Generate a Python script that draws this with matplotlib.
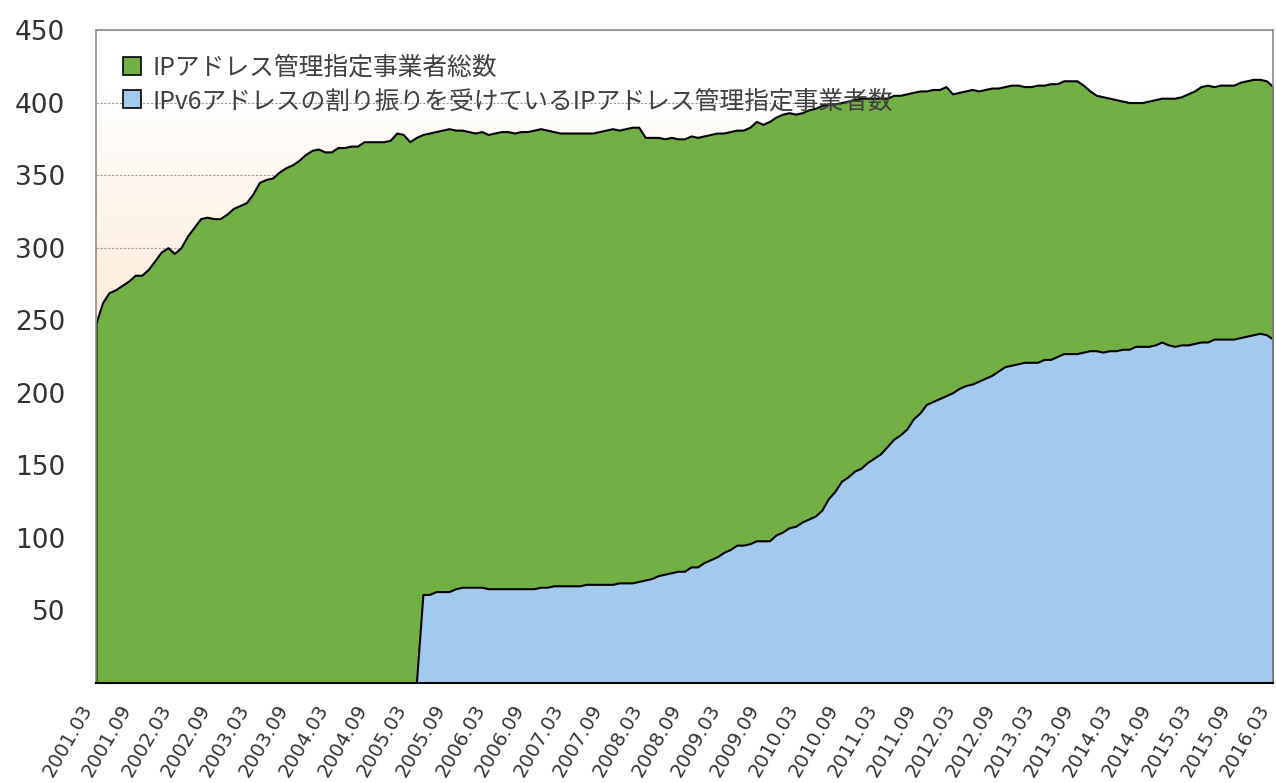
import numpy as np
import matplotlib
matplotlib.use("Agg")
import matplotlib.pyplot as plt
from matplotlib.patches import Patch
from matplotlib.colors import LinearSegmentedColormap
from matplotlib.transforms import ScaledTranslation

# monthly values, 2001.03 .. 2016.03
total = [248, 262, 269, 271, 274, 277, 281, 281, 285, 291, 297, 300, 296, 300, 308, 314,
         320, 321, 320, 320, 323, 327, 329, 331, 337, 345, 347, 348, 352, 355, 357, 360,
         364, 367, 368, 366, 366, 369, 369, 370, 370, 373, 373, 373, 373, 374, 379, 378,
         373, 376, 378, 379, 380, 381, 382, 381, 381, 380, 379, 380, 378, 379, 380, 380,
         379, 380, 380, 381, 382, 381, 380, 379, 379, 379, 379, 379, 379, 380, 381, 382,
         381, 382, 383, 383, 376, 376, 376, 375, 376, 375, 375, 377, 376, 377, 378, 379,
         379, 380, 381, 381, 383, 387, 385, 387, 390, 392, 393, 392, 393, 395, 396, 398,
         399, 399, 400, 401, 402, 403, 403, 403, 403, 403, 405, 405, 406, 407, 408, 408,
         409, 409, 411, 406, 407, 408, 409, 408, 409, 410, 410, 411, 412, 412, 411, 411,
         412, 412, 413, 413, 415, 415, 415, 412, 408, 405, 404, 403, 402, 401, 400, 400,
         400, 401, 402, 403, 403, 403, 404, 406, 408, 411, 412, 411, 412, 412, 412, 414,
         415, 416, 416, 415, 411]

ipv6 = [0] * 50 + [
    61, 61, 63, 63, 63, 65, 66, 66, 66, 66, 65, 65, 65, 65, 65, 65, 65, 65, 66, 66,
    67, 67, 67, 67, 67, 68, 68, 68, 68, 68, 69, 69, 69, 70, 71, 72, 74, 75, 76, 77,
    77, 80, 80, 83, 85, 87, 90, 92, 95, 95, 96, 98, 98, 98, 102, 104, 107, 108, 111, 113,
    115, 119, 127, 132, 139, 142, 146, 148, 152, 155, 158, 163, 168, 171, 175, 182, 186, 192, 194, 196,
    198, 200, 203, 205, 206, 208, 210, 212, 215, 218, 219, 220, 221, 221, 221, 223, 223, 225, 227, 227,
    227, 228, 229, 229, 228, 229, 229, 230, 230, 232, 232, 232, 233, 235, 233, 232, 233, 233, 234, 235,
    235, 237, 237, 237, 237, 238, 239, 240, 241, 240, 237]

tick_labels = ["2001.03", "2001.09", "2002.03", "2002.09", "2003.03", "2003.09", "2004.03",
               "2004.09", "2005.03", "2005.09", "2006.03", "2006.09", "2007.03", "2007.09",
               "2008.03", "2008.09", "2009.03", "2009.09", "2010.03", "2010.09", "2011.03",
               "2011.09", "2012.03", "2012.09", "2013.03", "2013.09", "2014.03", "2014.09",
               "2015.03", "2015.09", "2016.03"]

legend_labels = ["IPアドレス管理指定事業者総数",
                 "IPv6アドレスの割り振りを受けているIPアドレス管理指定事業者数"]

green = "#72B046"
blue = "#A3C9EC"

x = np.arange(len(total))

fig = plt.figure(figsize=(12.76, 7.83), dpi=100)
ax = fig.add_axes([0.0752, 0.1277, 0.9224, 0.834])

# background gradient (peach at bottom -> white at top)
cmap = LinearSegmentedColormap.from_list(
    "bg", [(0, "#F9D7B0"), (0.55, "#FDEBD7"), (0.9, "#FFFFFF"), (1, "#FFFFFF")])
grad = np.linspace(0, 1, 256).reshape(-1, 1)
ax.imshow(grad, cmap=cmap, origin="lower", aspect="auto", extent=[0, 180, 0, 450], zorder=0)

for v in range(50, 451, 50):
    ax.axhline(v, color="#999999", lw=0.8, ls=(0, (2, 1.5)), zorder=1)

ax.fill_between(x, 0, total, facecolor=green, edgecolor="black", lw=1.5, zorder=2)
ax.fill_between(x, 0, ipv6, facecolor=blue, edgecolor="black", lw=1.5, zorder=3)

ax.set_xlim(0, 180)
ax.set_ylim(0, 450)

ax.set_xticks(np.arange(0, 181, 6))
ax.set_xticks(np.arange(0, 181, 1), minor=True)
ax.set_xticklabels(tick_labels, rotation=60, ha="right", rotation_mode="anchor",
                   fontsize=14, color="#333333")
ax.tick_params(axis="x", which="major", direction="in", length=7, color="#888888", pad=13)
ax.tick_params(axis="x", which="minor", direction="in", length=4, color="#999999")
shift = ScaledTranslation(-16 / 100, 0, fig.dpi_scale_trans)
for lbl in ax.get_xticklabels():
    lbl.set_transform(lbl.get_transform() + shift)

ax.set_yticks(np.arange(50, 451, 50))
ax.set_yticklabels([str(v) for v in range(50, 451, 50)], fontsize=19, color="#333333")
ax.tick_params(axis="y", length=0, pad=22)

for s in ["left", "top", "right"]:
    ax.spines[s].set_color("#8c8c8c")
    ax.spines[s].set_linewidth(1.2)
ax.spines["bottom"].set_color("black")
ax.spines["bottom"].set_linewidth(1.5)
for s in ax.spines.values():
    s.set_zorder(5)

handles = [Patch(facecolor=green, edgecolor="black", lw=1.2),
           Patch(facecolor=blue, edgecolor="black", lw=1.2)]
leg = ax.legend(handles, legend_labels, loc="upper left", bbox_to_anchor=(0.01, 0.985),
                frameon=False, handlelength=0.75, handleheight=0.75, handletextpad=0.45,
                labelspacing=0.3, borderaxespad=0.2,
                prop={"family": ["Noto Sans CJK JP", "DejaVu Sans"], "size": 17.8})
for t in leg.get_texts():
    t.set_color("#404040")
leg.set_zorder(6)

fig.savefig("out.png", dpi=100)
